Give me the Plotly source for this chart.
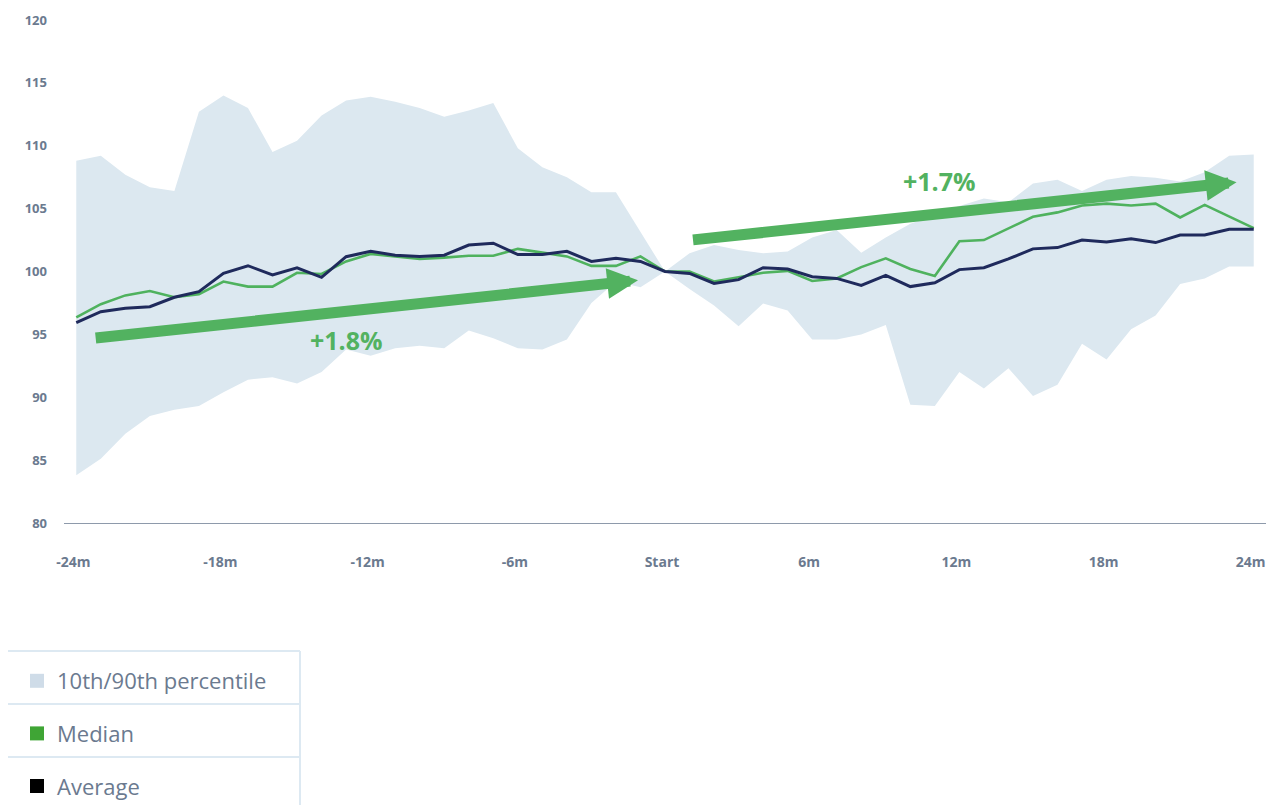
import plotly.graph_objects as go

# ---------------- data ----------------
months = [-24, -23, -22, -21, -20, -19, -18, -17, -16, -15, -14, -13, -12,
          -11, -10, -9, -8, -7, -6, -5, -4, -3, -2, -1, 0,
          1, 2, 3, 4, 5, 6, 7, 8, 9, 10, 11, 12,
          13, 14, 15, 16, 17, 18, 19, 20, 21, 22, 23, 24]

p90 = [108.8, 109.2, 107.7, 106.7, 106.4, 112.7, 114.0, 113.0, 109.5, 110.4, 112.4, 113.6, 113.9,
       113.5, 113.0, 112.3, 112.8, 113.4, 109.8, 108.3, 107.5, 106.3, 106.3, 103.1, 100.0,
       101.45, 102.1, 101.7, 101.45, 101.6, 102.7, 103.3, 101.5, 102.7, 103.8, 104.5, 105.2,
       105.8, 105.5, 107.0, 107.3, 106.4, 107.3, 107.6, 107.45, 107.15, 107.9, 109.2, 109.3]

p10 = [83.8, 85.1, 87.1, 88.5, 89.0, 89.3, 90.4, 91.4, 91.6, 91.1, 92.0, 93.8, 93.3,
       93.9, 94.1, 93.9, 95.3, 94.7, 93.9, 93.8, 94.6, 97.5, 99.2, 98.75, 100.0,
       98.6, 97.3, 95.65, 97.45, 96.9, 94.6, 94.6, 95.0, 95.75, 89.4, 89.3, 92.0,
       90.7, 92.3, 90.1, 91.0, 94.25, 93.0, 95.4, 96.5, 99.0, 99.45, 100.4, 100.4]

median = [96.35, 97.4, 98.1, 98.45, 97.95, 98.2, 99.2, 98.8, 98.8, 99.9, 99.8, 100.8, 101.4,
          101.2, 101.0, 101.1, 101.25, 101.25, 101.8, 101.5, 101.2, 100.45, 100.45, 101.2, 100.0,
          100.0, 99.2, 99.55, 99.9, 100.05, 99.25, 99.45, 100.35, 101.05, 100.2, 99.65, 102.4,
          102.5, 103.45, 104.35, 104.7, 105.25, 105.4, 105.25, 105.4, 104.3, 105.3, 104.35, 103.45]

average = [95.93, 96.8, 97.07, 97.2, 97.95, 98.4, 99.85, 100.46, 99.72, 100.3, 99.54, 101.18, 101.6,
           101.3, 101.2, 101.3, 102.1, 102.25, 101.35, 101.35, 101.6, 100.8, 101.05, 100.8, 100.0,
           99.85, 99.05, 99.35, 100.3, 100.2, 99.58, 99.45, 98.9, 99.7, 98.8, 99.1, 100.15,
           100.3, 101.0, 101.8, 101.9, 102.5, 102.35, 102.6, 102.3, 102.9, 102.9, 103.35, 103.35]

x_tickvals = [-24, -18, -12, -6, 0, 6, 12, 18, 24]
x_ticktext = ["-24m", "-18m", "-12m", "-6m", "Start", "6m", "12m", "18m", "24m"]
y_tickvals = [80, 85, 90, 95, 100, 105, 110, 115, 120]

legend_names = ["10th/90th percentile", "Median", "Average"]

# trend arrows: (start month, start value) -> (end month, end value), label, label position
trend_labels = ["+1.8%", "+1.7%"]
trend_start_x = [-23.27, 1.08]
trend_start_y = [94.7, 102.5]
trend_end_x = [-1.1, 23.3]
trend_end_y = [99.3, 107.1]
label_x = [-13.0, 11.2]
label_y = [94.55, 107.2]

# ---------------- styles ----------------
BAND = "#dce8f0"
GREEN = "#4fb25e"
NAVY = "#1f2a5c"
ARROW = "#52b260"
TICK = "#6b7a8f"
FONT = "Open Sans"

PAGE_OFF = 8  # default body margin of the page
W, H = 1274 - PAGE_OFF, 805 - PAGE_OFF
ML, MR, MT, MB = 56, 8, 12, 282
PW, PH = W - ML - MR, H - MT - MB


def sx(px):  # screen pixel x -> paper
    return (px - PAGE_OFF - ML) / PW


def sy(py):  # screen pixel y -> paper
    return (H - MB - (py - PAGE_OFF)) / PH


fig = go.Figure()

fig.add_trace(go.Scatter(x=months, y=p10, mode="lines", line=dict(width=0, color=BAND),
                         showlegend=False, hoverinfo="skip"))
fig.add_trace(go.Scatter(x=months, y=p90, mode="lines", line=dict(width=0, color=BAND),
                         fill="tonexty", fillcolor=BAND, showlegend=False, hoverinfo="skip"))
fig.add_trace(go.Scatter(x=months, y=median, mode="lines", line=dict(width=2.6, color=GREEN),
                         showlegend=False))
fig.add_trace(go.Scatter(x=months, y=average, mode="lines", line=dict(width=3, color=NAVY),
                         showlegend=False))

# legend-only entries (square swatches)
legend_colors = ["#cfdce8", "#3fa535", "#000000"]
for i, (name, col) in enumerate(zip(legend_names, legend_colors)):
    fig.add_trace(go.Scatter(x=[None], y=[None], mode="markers", name=name,
                             legendgroup=f"g{i}",
                             marker=dict(symbol="square", size=14, color=col)))

# arrows and labels
for i in range(len(trend_labels)):
    fig.add_annotation(x=trend_end_x[i], y=trend_end_y[i], ax=trend_start_x[i], ay=trend_start_y[i],
                       xref="x", yref="y", axref="x", ayref="y", text="", showarrow=True,
                       arrowhead=2, arrowsize=0.56, arrowwidth=11, arrowcolor=ARROW, standoff=0)
    fig.add_annotation(x=label_x[i], y=label_y[i], xref="x", yref="y", text=f"<b>{trend_labels[i]}</b>",
                       showarrow=False, font=dict(family=FONT, size=25, color=ARROW))

# legend box (table-like) drawn with shapes; kept inside the figure
box_l, box_r = sx(7), sx(300)
row_edges = [651, 704, 757]
bottom = sy(805)
box_line = dict(color="#dde9f2", width=2)
for edge in row_edges:
    fig.add_shape(type="line", xref="paper", yref="paper", x0=box_l, x1=box_r,
                  y0=sy(edge), y1=sy(edge), line=box_line)
for xe in (box_l, box_r):
    fig.add_shape(type="line", xref="paper", yref="paper", x0=xe, x1=xe,
                  y0=sy(row_edges[0]), y1=bottom, line=box_line)

fig.update_layout(
    width=W, height=H,
    margin=dict(l=ML, r=MR, t=MT, b=MB, pad=0, autoexpand=False),
    paper_bgcolor="white", plot_bgcolor="white",
    font=dict(family=FONT, color=TICK),
    showlegend=True,
    legend=dict(x=sx(17), y=sy(660), xanchor="left", yanchor="top",
                bgcolor="rgba(0,0,0,0)", borderwidth=0, tracegroupgap=21,
                font=dict(family=FONT, size=22, color=TICK), itemsizing="trace"),
    xaxis=dict(range=[-24.5, 24.5], tickvals=x_tickvals, ticktext=x_ticktext,
               showgrid=False, zeroline=False, showline=True, linecolor="#8e9aab", linewidth=1,
               ticks="", ticklabelstandoff=26, ticklabelshift=-3, ticklabeloverflow="allow",
               tickfont=dict(family=FONT, size=14, color=TICK, weight="bold")),
    yaxis=dict(range=[80, 120], tickvals=y_tickvals, showgrid=False, zeroline=False,
               showline=False, ticks="", ticklabelstandoff=16,
               tickfont=dict(family=FONT, size=13, color=TICK, weight="bold")),
)

fig.write_html("out.html")
